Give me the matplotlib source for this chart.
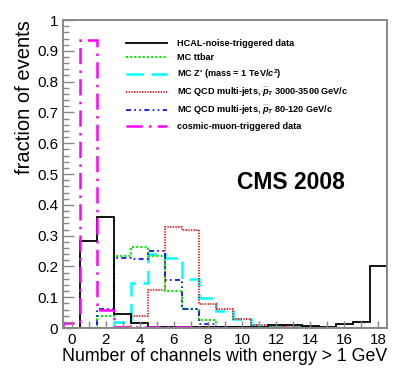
import numpy as np
import matplotlib
matplotlib.use('Agg')
import matplotlib.pyplot as plt
from matplotlib.ticker import MultipleLocator

plt.rcParams['font.family'] = ['Liberation Sans', 'DejaVu Sans']
plt.rcParams['mathtext.fontset'] = 'custom'
plt.rcParams['mathtext.rm'] = 'Liberation Sans:bold'
plt.rcParams['mathtext.bf'] = 'Liberation Sans:bold'
plt.rcParams['mathtext.it'] = 'Liberation Sans:bold:italic'

# bins: number of channels 0..18
edges = np.arange(-0.5, 19.0, 1.0)

hcal_noise = [0.0, 0.282, 0.36, 0.045, 0.015, 0.005, 0.003, 0.005, 0.005, 0.004,
              0.004, 0.005, 0.01, 0.01, 0.006, 0.005, 0.012, 0.021, 0.202]
ttbar = [0.0, 0.0, 0.040, 0.235, 0.264, 0.235, 0.121, 0.063, 0.027, 0.005,
         0.002, 0.001, 0.001, 0.0, 0.0, 0.0, 0.0, 0.0, 0.0]
zprime = [0.0, 0.0, 0.0, 0.020, 0.148, 0.240, 0.229, 0.158, 0.098, 0.055,
          0.029, 0.010, 0.008, 0.004, 0.002, 0.001, 0.0, 0.0, 0.0]
qcd_high = [0.0, 0.0, 0.0, 0.004, 0.039, 0.123, 0.327, 0.320, 0.078, 0.061,
            0.031, 0.010, 0.006, 0.003, 0.002, 0.001, 0.0, 0.0, 0.0]
qcd_low = [0.0, 0.0, 0.061, 0.229, 0.224, 0.250, 0.156, 0.061, 0.012, 0.003,
           0.002, 0.001, 0.0, 0.0, 0.0, 0.0, 0.0, 0.0, 0.0]
cosmic = [0.015, 0.935, 0.058, 0.002, 0.004, 0.003, 0.002, 0.002, 0.001, 0.001,
          0.001, 0.001, 0.001, 0.001, 0.001, 0.001, 0.001, 0.001, 0.001]

labels = ['HCAL-noise-triggered data',
          'MC ttbar',
          r"MC Z' (mass = 1 TeV/$\mathit{c}^{2}$)",
          r'MC QCD multi-jets, $\widehat{p}_{T}$ 3000-3500 GeV/c',
          r'MC QCD multi-jets, $\widehat{p}_{T}$ 80-120 GeV/c',
          'cosmic-muon-triggered data']

fig = plt.figure(figsize=(3.94, 3.78), dpi=100)
ax = fig.add_axes([0.160, 0.132, 0.822, 0.815])

#draw order: MC first, data on top
ax.stairs(zprime, edges, color='#00ffff', lw=1.8, ls=(0, (7, 3)), label=labels[2])
ax.stairs(qcd_high, edges, color='#ff0000', lw=1.2, ls=(0, (0.8, 0.8)), label=labels[3])
ax.stairs(ttbar, edges, color='#00ee00', lw=1.5, ls=(0, (1, 1)), label=labels[1])
ax.stairs(qcd_low, edges, color='#0000ff', lw=1.2, ls=(0, (3, 2, 1, 2, 1, 2)), label=labels[4])
ax.stairs(hcal_noise, edges, color='black', lw=1.3, label=labels[0])
ax.stairs(cosmic, edges, color='#ff00ff', lw=1.8, ls=(0, (6.5, 2.5, 1, 2.5)), label=labels[5])

ax.set_xlim(-0.5, 18.5)
ax.set_ylim(0, 1)
ax.xaxis.set_major_locator(MultipleLocator(2))
ax.xaxis.set_minor_locator(MultipleLocator(1))
ax.yaxis.set_major_locator(MultipleLocator(0.1))
ax.yaxis.set_minor_locator(MultipleLocator(0.02))
ax.yaxis.set_major_formatter(plt.FuncFormatter(lambda v, p: '%g' % round(v, 2)))
ax.tick_params(which='both', direction='in', color='#888888', top=False, right=False, labelsize=11)
ax.tick_params(which='major', length=8, width=1)
ax.tick_params(which='minor', length=4, width=1)
ax.tick_params(axis='x', which='both', length=5)
for s in ax.spines.values():
    s.set_color('#888888')
    s.set_linewidth(1.4)

ax.set_ylabel('fraction of events', fontsize=14.5, loc='top', labelpad=2)
ax.set_xlabel('Number of channels with energy > 1 GeV', fontsize=12.8, loc='right', labelpad=1)

h, l = ax.get_legend_handles_labels()
order = [l.index(x) for x in labels]
ax.legend([h[i] for i in order], [l[i] for i in order], loc='upper left',
          bbox_to_anchor=(0.17, 0.965), frameon=False, prop={'weight': 'bold', 'size': 6.6},
          handlelength=4.4, handletextpad=1.1, labelspacing=0.55)

ax.text(0.704, 0.474, 'CMS 2008', transform=ax.transAxes, ha='center', va='center',
        fontsize=16.5, fontweight='bold')

fig.savefig('out.png', dpi=100)
